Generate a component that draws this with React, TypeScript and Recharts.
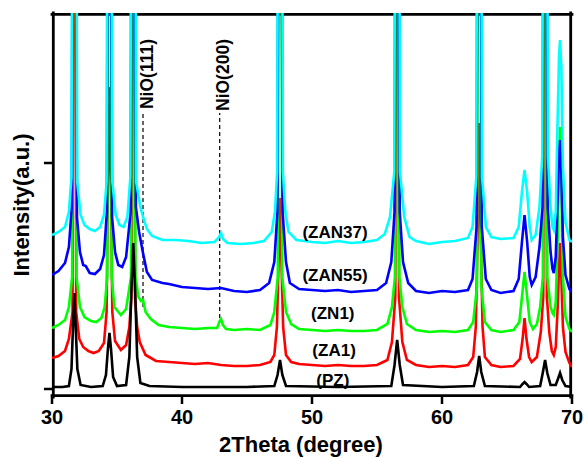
import React from 'react';
import { LineChart, Line, XAxis, YAxis, ReferenceLine, ReferenceDot } from 'recharts';

// 2Theta (degree) / intensity (a.u., stacked offsets) pairs
const PZ: [number, number][] = [
  [30.0, 0], [30.8, 0], [31.3, 1], [31.5, 18], [31.6, 55], [31.72, 94], [31.84, 55], [31.95, 18], [32.2, 2],
  [33.0, 0], [33.9, 1], [34.15, 12], [34.3, 38], [34.42, 54], [34.54, 38], [34.7, 10], [35.0, 1], [35.7, 2],
  [35.95, 30], [36.1, 95], [36.25, 144], [36.4, 95], [36.55, 30], [36.8, 4], [37.5, 1], [40, 0], [45, 0],
  [47.1, 1], [47.35, 12], [47.54, 27], [47.72, 12], [48.0, 1], [52, 0], [56.1, 1], [56.35, 22], [56.55, 47],
  [56.75, 22], [57.0, 2], [60, 0], [62.45, 1], [62.7, 15], [62.86, 31], [63.02, 15], [63.3, 1], [66.0, 0],
  [66.2, 3], [66.35, 5], [66.5, 3], [66.7, 0], [67.55, 1], [67.75, 14], [67.93, 27], [68.1, 14], [68.35, 2],
  [68.75, 2], [68.92, 8], [69.08, 14], [69.25, 7], [69.5, 1], [70, 0],
];

const ZA1: [number, number][] = [
  [30.0, 29], [30.5, 31], [31.0, 36], [31.3, 48], [31.58, 75], [31.63, 420], [31.72, 1000], [31.81, 420],
  [31.86, 75], [32.1, 48], [32.4, 40], [32.8, 36], [33.2, 34], [33.6, 36], [34.0, 44], [34.2, 75], [34.3, 200],
  [34.42, 300], [34.54, 200], [34.64, 75], [34.85, 46], [35.3, 37], [35.7, 42], [35.95, 60], [36.11, 90],
  [36.16, 420], [36.25, 1000], [36.34, 420], [36.39, 90], [36.55, 60], [36.75, 45], [37.2, 32], [38, 26],
  [39, 25], [40, 24], [41, 23], [42, 24], [43, 22], [44, 21], [45, 21], [46, 22], [46.8, 25], [47.1, 32],
  [47.3, 60], [47.42, 120], [47.54, 189], [47.66, 120], [47.78, 60], [48.0, 32], [48.4, 25], [49, 23], [50, 22],
  [51, 21], [52, 22], [53, 21], [54, 21], [55, 22], [55.8, 27], [56.15, 45], [56.41, 90], [56.46, 420],
  [56.55, 1000], [56.64, 420], [56.69, 90], [56.95, 45], [57.3, 27], [58, 22], [59, 20], [60, 21], [61, 20],
  [62, 22], [62.4, 30], [62.6, 60], [62.74, 150], [62.86, 264], [62.98, 150], [63.12, 60], [63.3, 30],
  [63.8, 22], [64.5, 20], [65.5, 21], [66.0, 28], [66.2, 48], [66.35, 69], [66.5, 48], [66.7, 30], [66.9, 25],
  [67.3, 30], [67.6, 55], [67.79, 90], [67.84, 420], [67.93, 1000], [68.02, 420], [68.07, 90], [68.25, 55],
  [68.45, 36], [68.6, 32], [68.75, 40], [68.9, 80], [69.0, 120], [69.08, 144], [69.18, 110], [69.3, 60],
  [69.5, 35], [69.8, 24], [70, 20],
];

const ZN1: [number, number][] = [
  [30.0, 59], [30.5, 62], [31.0, 67], [31.3, 80], [31.55, 110], [31.6, 420], [31.72, 1000], [31.84, 420],
  [31.89, 110], [32.15, 80], [32.5, 70], [33.0, 66], [33.4, 65], [33.8, 69], [34.05, 80], [34.25, 110],
  [34.3, 420], [34.42, 1000], [34.54, 420], [34.59, 110], [34.8, 80], [35.3, 72], [35.7, 78], [36.08, 110],
  [36.13, 420], [36.25, 1000], [36.37, 420], [36.42, 110], [36.65, 90], [36.85, 86], [37.0, 87], [37.2, 75],
  [37.6, 68], [38.2, 62], [39, 60], [40, 59], [41, 58], [42, 59], [42.7, 59], [42.9, 66], [43.0, 68],
  [43.15, 62], [43.4, 58], [44, 57], [45, 58], [46, 57], [46.8, 62], [47.1, 75], [47.37, 110], [47.42, 420],
  [47.54, 1000], [47.66, 420], [47.71, 110], [48.0, 75], [48.4, 63], [49, 58], [50, 57], [51, 56], [52, 57],
  [53, 56], [54, 56], [55, 57], [55.8, 63], [56.15, 80], [56.38, 110], [56.43, 420], [56.55, 1000],
  [56.67, 420], [56.72, 110], [56.95, 80], [57.3, 63], [58, 57], [59, 55], [60, 56], [61, 55], [62, 57],
  [62.4, 65], [62.69, 100], [62.74, 420], [62.86, 1000], [62.98, 420], [63.03, 100], [63.3, 65], [63.8, 57],
  [64.5, 55], [65.5, 57], [65.95, 65], [66.15, 90], [66.35, 115], [66.55, 90], [66.75, 65], [67.0, 58],
  [67.3, 63], [67.55, 80], [67.76, 110], [67.81, 420], [67.93, 1000], [68.05, 420], [68.1, 110], [68.35, 80],
  [68.5, 74], [68.6, 72], [68.75, 85], [68.9, 150], [69.0, 230], [69.08, 260], [69.18, 200], [69.3, 110],
  [69.5, 70], [69.8, 58], [70, 55],
];

const ZAN55: [number, number][] = [
  [30.0, 112], [30.5, 116], [31.0, 124], [31.3, 140], [31.52, 180], [31.57, 420], [31.72, 1000], [31.87, 420],
  [31.92, 170], [32.15, 135], [32.4, 122], [32.6, 121], [32.9, 114], [33.3, 113], [33.7, 118], [34.0, 132],
  [34.22, 175], [34.27, 420], [34.42, 1000], [34.57, 420], [34.62, 170], [34.85, 135], [35.1, 122], [35.4, 120],
  [35.7, 130], [36.05, 175], [36.1, 420], [36.25, 1000], [36.4, 420], [36.45, 180], [36.7, 155], [37.0, 134],
  [37.3, 115], [37.7, 107], [38.5, 104], [39, 103], [40, 100], [41, 99], [42, 98], [43, 99], [44, 96], [45, 95],
  [46, 97], [46.7, 104], [47.1, 125], [47.34, 175], [47.39, 420], [47.54, 1000], [47.69, 420], [47.74, 175],
  [48.0, 125], [48.3, 104], [49, 98], [50, 97], [51, 96], [52, 97], [53, 95], [54, 96], [55, 97], [55.7, 104],
  [56.1, 125], [56.35, 175], [56.4, 420], [56.55, 1000], [56.7, 420], [56.75, 175], [57.0, 125], [57.4, 104],
  [58, 96], [59, 94], [60, 96], [61, 95], [62, 97], [62.35, 108], [62.66, 160], [62.71, 420], [62.86, 1000],
  [63.01, 420], [63.06, 160], [63.37, 108], [63.8, 97], [64.5, 94], [65.5, 96], [65.9, 108], [66.15, 145],
  [66.35, 172], [66.55, 145], [66.75, 110], [66.9, 102], [67.2, 110], [67.5, 140], [67.73, 180], [67.78, 420],
  [67.93, 1000], [68.08, 420], [68.13, 180], [68.35, 135], [68.5, 118], [68.6, 114], [68.75, 130], [68.9, 190],
  [69.0, 235], [69.08, 247], [69.18, 215], [69.3, 150], [69.5, 112], [69.8, 98], [70, 95],
];

const ZAN37: [number, number][] = [
  [30.0, 152], [30.5, 155], [31.0, 160], [31.3, 175], [31.5, 210], [31.54, 420], [31.72, 1000], [31.9, 420],
  [31.94, 205], [32.2, 172], [32.5, 162], [32.9, 158], [33.3, 156], [33.7, 160], [34.0, 172], [34.2, 205],
  [34.24, 420], [34.42, 1000], [34.6, 420], [34.64, 205], [34.9, 172], [35.2, 162], [35.5, 160], [35.8, 170],
  [36.03, 210], [36.07, 420], [36.25, 1000], [36.43, 420], [36.47, 205], [36.8, 180], [37.0, 170], [37.3, 158],
  [37.7, 151], [38.5, 147], [39.5, 147], [40.5, 146], [41.5, 144], [42.5, 145], [42.85, 150], [43.0, 154],
  [43.15, 148], [43.5, 144], [44.5, 143], [45.5, 144], [46.3, 146], [46.9, 155], [47.15, 175], [47.32, 215],
  [47.36, 420], [47.54, 1000], [47.72, 420], [47.76, 215], [47.95, 175], [48.2, 155], [48.8, 147], [50, 145],
  [51, 144], [52, 146], [53, 144], [54, 145], [55, 147], [55.6, 153], [56.0, 170], [56.33, 215], [56.37, 420],
  [56.55, 1000], [56.73, 420], [56.77, 215], [57.1, 170], [57.5, 150], [58, 146], [59, 143], [60, 145],
  [61, 146], [62, 149], [62.35, 160], [62.64, 210], [62.68, 420], [62.86, 1000], [63.04, 420], [63.08, 210],
  [63.38, 160], [63.8, 150], [64.5, 148], [65.5, 149], [65.9, 160], [66.15, 195], [66.35, 217], [66.55, 195],
  [66.75, 160], [66.9, 147], [67.2, 152], [67.5, 180], [67.71, 230], [67.75, 420], [67.93, 1000], [68.11, 420],
  [68.15, 230], [68.35, 180], [68.5, 160], [68.6, 157], [68.75, 175], [68.88, 260], [69.0, 330], [69.08, 347],
  [69.18, 320], [69.3, 220], [69.5, 165], [69.8, 147], [70, 145],
];

const X_DOMAIN: [number, number] = [30, 70];
const Y_DOMAIN: [number, number] = [-10, 374];
const X_TICKS = [30, 40, 50, 60, 70];
const Y_TICKS = [-2, 224];

// drawn back to front
const SERIES = [
  { name: 'ZA1', color: '#ff0000', points: ZA1, label: '(ZA1)', lx: 51.7, ly: 37 },
  { name: 'ZN1', color: '#00ff00', points: ZN1, label: '(ZN1)', lx: 51.6, ly: 74 },
  { name: 'ZAN55', color: '#0000ff', points: ZAN55, label: '(ZAN55)', lx: 51.77, ly: 112 },
  { name: 'ZAN37', color: '#00ffff', points: ZAN37, label: '(ZAN37)', lx: 51.77, ly: 155 },
  { name: 'PZ', color: '#000000', points: PZ, label: '(PZ)', lx: 51.6, ly: 7 },
];

const PHASES = [
  { text: 'NiO(111)', pos: 37.0, from: 80, to: 274, lx: 37.3, ly: 313 },
  { text: 'NiO(200)', pos: 42.9, from: 69, to: 274, lx: 43.15, ly: 312 },
];

const FONT = '"Liberation Sans", Arial, sans-serif';

// tick mark lengths expressed in data units (8px at 13px per degree; 7px at 1px per unit)
const Y_TICK_LEN = 0.62;
const X_TICK_LEN = 7;

const [X0, X1] = X_DOMAIN;
const [Y0, Y1] = Y_DOMAIN;
// frame sides drawn a hair inside the plot edge so their outer edge meets it
const FX = 0.1;
const FY = 1.3;
const FRAME = [
  [{ x: X0, y: Y0 + FY }, { x: X1, y: Y0 + FY }],
  [{ x: X0, y: Y1 - FY }, { x: X1, y: Y1 - FY }],
  [{ x: X0 + FX, y: Y0 }, { x: X0 + FX, y: Y1 }],
  [{ x: X1 - FX, y: Y0 }, { x: X1 - FX, y: Y1 }],
];

export default function App() {
  return (
    <div style={{ position: 'absolute', left: 0, top: 0, background: '#fff' }}>
      <LineChart width={584} height={458} margin={{ top: 13, right: 12, bottom: 0, left: 0 }}>
        <XAxis
          type="number"
          dataKey="t"
          domain={X_DOMAIN}
          ticks={X_TICKS}
          allowDataOverflow
          height={61}
          tickSize={7}
          tickMargin={6}
          axisLine={false}
          tickLine={false}
          tick={{ fill: '#000', fontSize: 20, fontWeight: 700, fontFamily: FONT }}
          label={{
            value: '2Theta (degree)',
            position: 'insideBottom',
            offset: 6,
            dx: -11,
            style: { fill: '#000', fontSize: 22, fontWeight: 700, fontFamily: FONT },
          }}
        />
        <YAxis
          type="number"
          domain={Y_DOMAIN}
          ticks={Y_TICKS}
          allowDataOverflow
          width={52}
          axisLine={false}
          tickLine={false}
          tick={false}
          label={{
            value: 'Intensity(a.u.)',
            angle: -90,
            position: 'insideLeft',
            offset: 21,
            style: { textAnchor: 'middle', fill: '#000', fontSize: 22, fontWeight: 700, fontFamily: FONT },
          }}
        />
        {FRAME.map((seg, i) => (
          <ReferenceLine
            key={'frame' + i}
            segment={seg}
            stroke="#000"
            strokeWidth={2.8}
            strokeLinecap="square"
            ifOverflow="visible"
          />
        ))}
        {Y_TICKS.map((v) => (
          <ReferenceLine
            key={'yt' + v}
            segment={[{ x: X0 - Y_TICK_LEN, y: v }, { x: X0, y: v }]}
            stroke="#000"
            strokeWidth={2.5}
            ifOverflow="visible"
          />
        ))}
        {X_TICKS.map((t) => (
          <ReferenceLine
            key={'xt' + t}
            segment={[{ x: t, y: Y0 }, { x: t, y: Y0 - X_TICK_LEN }]}
            stroke="#000"
            strokeWidth={2.5}
            ifOverflow="visible"
          />
        ))}
        {PHASES.map((p) => (
          <ReferenceLine
            key={p.text + '-line'}
            segment={[{ x: p.pos, y: p.from }, { x: p.pos, y: p.to }]}
            stroke="#000"
            strokeWidth={1.2}
            strokeDasharray="4 3"
          />
        ))}
        {SERIES.map((s) => (
          <Line
            key={s.name}
            name={s.name}
            data={s.points.map(([t, v]) => ({ t, v }))}
            dataKey="v"
            type="linear"
            stroke={s.color}
            strokeWidth={2.6}
            dot={false}
            activeDot={false}
            isAnimationActive={false}
          />
        ))}
        {SERIES.map((s) => (
          <ReferenceDot
            key={s.name + '-label'}
            x={s.lx}
            y={s.ly}
            r={0}
            fill="none"
            stroke="none"
            label={{
              value: s.label,
              position: 'center',
              style: { fill: '#000', fontSize: 17, fontWeight: 700, fontFamily: FONT },
            }}
          />
        ))}
        {PHASES.map((p) => (
          <ReferenceDot
            key={p.text + '-label'}
            x={p.lx}
            y={p.ly}
            r={0}
            fill="none"
            stroke="none"
            label={{
              value: p.text,
              position: 'center',
              angle: -90,
              style: { fill: '#000', fontSize: 17.5, fontWeight: 700, fontFamily: FONT },
            }}
          />
        ))}
      </LineChart>
    </div>
  );
}
